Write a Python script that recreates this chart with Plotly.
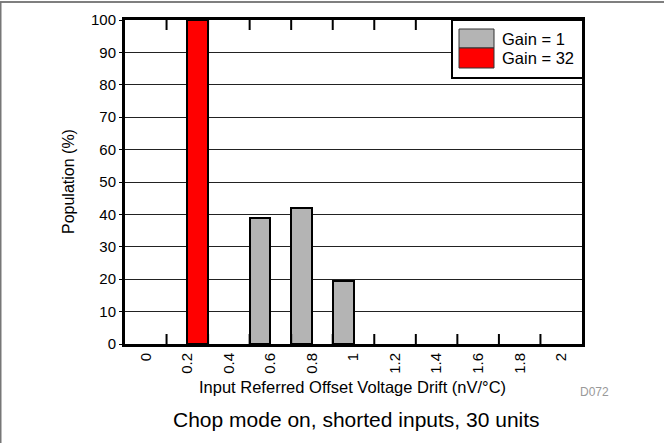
import plotly.graph_objects as go

categories = ["0", "0.2", "0.4", "0.6", "0.8", "1", "1.2", "1.4", "1.6", "1.8", "2"]
x_vals = [0.0, 0.2, 0.4, 0.6, 0.8, 1.0, 1.2, 1.4, 1.6, 1.8, 2.0]
gain1 = [None, None, None, 39, 42, 19.5, None, None, None, None, None]
gain32 = [None, 100, None, None, None, None, None, None, None, None, None]
series_names = ["Gain = 1", "Gain = 32"]
series_colors = ["#b4b4b4", "#ff0000"]
y_ticks = list(range(0, 101, 10))

FONT = "Liberation Sans, Arial, Helvetica, sans-serif"
W, H = 664, 443
L, R, T, B = 125, 82, 20, 99
pw, ph = W - L - R, H - T - B

def px(x):
    return (x - L) / pw

def py(y):
    return (H - B - y) / ph

step = x_vals[1] - x_vals[0]
boundaries = [round(v - step / 2, 3) for v in x_vals] + [round(x_vals[-1] + step / 2, 3)]
xrange_ = [boundaries[0], boundaries[-1]]
yrange_ = [0, 100]

fig = go.Figure()
for name, vals, col in zip(series_names, [gain1, gain32], series_colors):
    fig.add_trace(go.Bar(
        x=x_vals, y=vals, name=name,
        marker=dict(color=col, line=dict(color="black", width=2)),
        showlegend=False,
    ))

# inside tick marks at category boundaries (bottom and top), as one broken line trace
tick_h = 10 / ph * (yrange_[1] - yrange_[0])
tx, ty = [], []
for b in boundaries[1:-1]:
    tx += [b, b, None, b, b, None]
    ty += [yrange_[0], yrange_[0] + tick_h, None, yrange_[1] - tick_h, yrange_[1], None]
fig.add_trace(go.Scatter(x=tx, y=ty, mode="lines", line=dict(color="black", width=2),
                         showlegend=False, hoverinfo="skip", connectgaps=False))

shapes = []
annotations = []
# outer frame lines (top and left)
shapes.append(dict(type="line", xref="paper", yref="paper", x0=px(0), x1=px(W), y0=py(2), y1=py(2),
                   line=dict(color="#555555", width=1.5)))
shapes.append(dict(type="line", xref="paper", yref="paper", x0=px(0.75), x1=px(0.75), y0=py(2), y1=py(H),
                   line=dict(color="#777777", width=1.5)))
# legend box
shapes.append(dict(type="rect", xref="paper", yref="paper", x0=px(452), x1=px(583), y0=py(78), y1=py(20),
                   fillcolor="white", line=dict(color="black", width=2), layer="above"))
sw_y = [(29, 48), (48, 68)]
for (y0, y1), name, col in zip(sw_y, series_names, series_colors):
    shapes.append(dict(type="rect", xref="paper", yref="paper", x0=px(459), x1=px(494), y0=py(y1), y1=py(y0),
                       fillcolor=col, line=dict(color="#333333", width=1), layer="above"))
    annotations.append(dict(text=name, xref="paper", yref="paper", x=px(500), y=py((y0 + y1) / 2),
                            xanchor="left", yanchor="middle", showarrow=False,
                            font=dict(family=FONT, size=16.5, color="black")))

annotations += [
    dict(text="Population (%)", xref="paper", yref="paper", x=px(68), y=py(182), textangle=-90,
         xanchor="center", yanchor="middle", showarrow=False, font=dict(family=FONT, size=16, color="black")),
    dict(text="Input Referred Offset Voltage Drift (nV/°C)", xref="paper", yref="paper", x=px(352), y=py(387),
         xanchor="center", yanchor="middle", showarrow=False, font=dict(family=FONT, size=16.5, color="black")),
    dict(text="D072", xref="paper", yref="paper", x=px(578), y=py(392),
         xanchor="left", yanchor="middle", showarrow=False, font=dict(family=FONT, size=12, color="#999999")),
    dict(text="Chop mode on, shorted inputs, 30 units", xref="paper", yref="paper", x=px(356), y=py(419),
         xanchor="center", yanchor="middle", showarrow=False, font=dict(family=FONT, size=21, color="black")),
]

fig.update_layout(
    width=W, height=H,
    margin=dict(l=L, r=R, t=T, b=B, pad=0),
    paper_bgcolor="white", plot_bgcolor="white",
    barmode="group", bargap=0, bargroupgap=0,
    font=dict(family=FONT, size=15, color="black"),
    shapes=shapes, annotations=annotations,
    showlegend=False,
    xaxis=dict(
        range=xrange_, tickmode="array", tickvals=x_vals, ticktext=categories,
        ticks="", tickangle=-90, tickfont=dict(size=15),
        showline=True, linecolor="black", linewidth=3, mirror=True,
        showgrid=False, zeroline=False, fixedrange=True,
    ),
    yaxis=dict(
        range=yrange_, tickvals=y_ticks, ticks="outside", ticklen=3, tickcolor="black",
        tickfont=dict(size=15),
        showline=True, linecolor="black", linewidth=3, mirror=True,
        showgrid=True, gridcolor="#222222", gridwidth=1, zeroline=False, fixedrange=True,
    ),
)

fig.write_html("out.html", config={"displayModeBar": False})
with open("out.html", "r", encoding="utf-8") as f:
    html = f.read()
html = html.replace("<head>", "<head><style>html,body{margin:0;padding:0;overflow:hidden;}</style>", 1)
with open("out.html", "w", encoding="utf-8") as f:
    f.write(html)
